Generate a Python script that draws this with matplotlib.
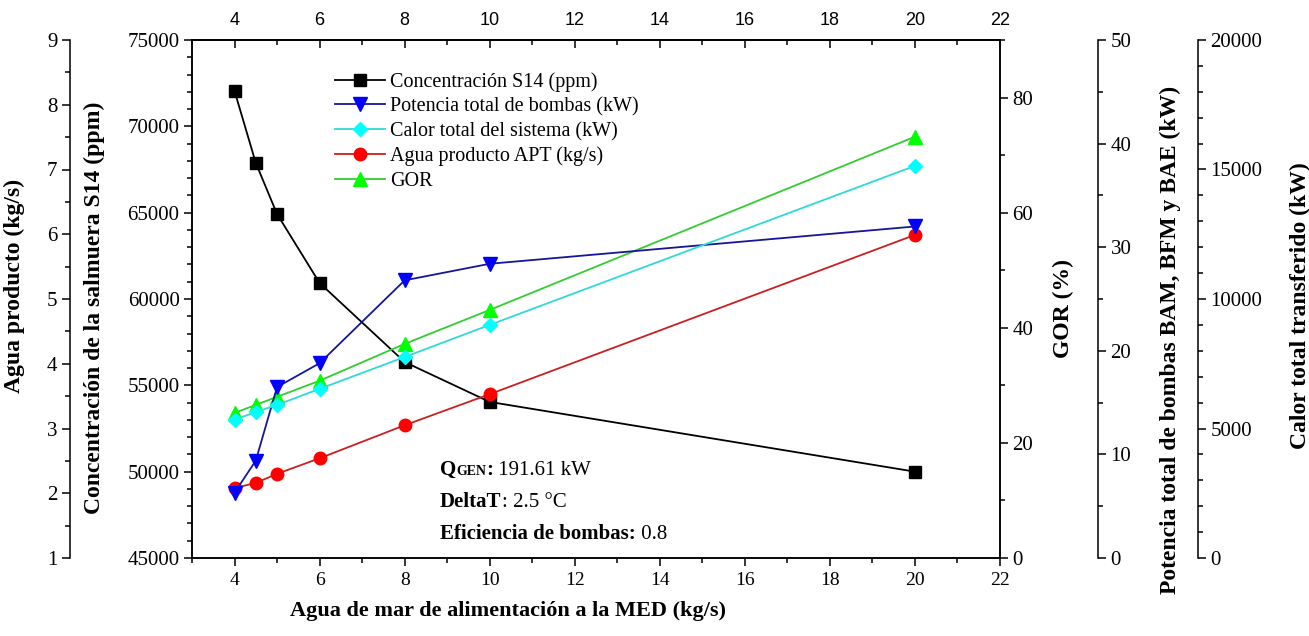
import matplotlib
matplotlib.use("Agg")
import matplotlib.pyplot as plt
from matplotlib.ticker import MultipleLocator
from matplotlib.offsetbox import TextArea, HPacker, VPacker, AnchoredOffsetbox

# Seawater feed to the MED unit (kg/s)
feed = [4, 4.5, 5, 6, 8, 10, 20]

# Series
conc_s14 = [72050, 67880, 64920, 60930, 56350, 54040, 50000]      # ppm
pump_power = [6.3, 9.4, 16.5, 18.8, 26.8, 28.4, 32.0]             # kW
heat_total = [5330, 5640, 5910, 6530, 7760, 9000, 15140]          # kW
product_water = [2.08, 2.16, 2.30, 2.54, 3.05, 3.53, 5.99]        # kg/s
gor = [25.2, 26.6, 28.0, 30.8, 37.2, 43.1, 73.2]                  # %

legend_labels = [
    "Concentración S14 (ppm)",
    "Potencia total de bombas (kW)",
    "Calor total del sistema (kW)",
    "Agua producto APT (kg/s)",
    "GOR",
]

plt.rcParams["font.family"] = ["Liberation Serif", "DejaVu Serif"]

W, H = 1309, 636
fig = plt.figure(figsize=(W / 100, H / 100), dpi=100)

L, R, T, B = 192, 1000, 40, 558
ax = fig.add_axes([L / W, 1 - B / H, (R - L) / W, (B - T) / H])
aw = (R - L)


def ax_off(px):
    return (px - L) / aw


def yfrac(py):
    return (B - py) / (B - T)


TICK_FS = 15
LABEL_FS = 17
LW = 1.1

# Twin axes, in drawing order
ax_g = ax.twinx()   # GOR
ax_w = ax.twinx()   # product water
ax_p = ax.twinx()   # pump power
ax_c = ax.twinx()   # heat

for a in (ax, ax_g, ax_w, ax_p, ax_c):
    for s in a.spines.values():
        s.set_linewidth(LW)

ax.set_xlim(3, 22)
ax.set_ylim(45000, 75000)
ax.ticklabel_format(axis="y", useOffset=False, style="plain")
ax.xaxis.set_major_locator(MultipleLocator(2))
ax.xaxis.set_minor_locator(MultipleLocator(1))
ax.yaxis.set_major_locator(MultipleLocator(5000))
ax.yaxis.set_minor_locator(MultipleLocator(1000))
ax.tick_params(axis="both", which="major", direction="out", length=6, width=LW,
               labelsize=TICK_FS, pad=3)
ax.tick_params(axis="both", which="minor", direction="out", length=3.5, width=LW)
ax.tick_params(axis="x", which="major", labelsize=14, pad=4)
ax.set_ylabel("Concentración de la salmuera S14 (ppm)", fontsize=LABEL_FS,
              fontweight="bold")
ax.yaxis.set_label_coords(ax_off(105), yfrac(308))
ax.set_xlabel("Agua de mar de alimentación a la MED (kg/s)", fontsize=16,
              fontweight="bold")
ax.xaxis.set_label_coords(ax_off(508), yfrac(601))

# Top axis
top = ax.secondary_xaxis("top")
top.xaxis.set_major_locator(MultipleLocator(2))
top.xaxis.set_minor_locator(MultipleLocator(1))
top.tick_params(which="major", direction="in", length=6, width=LW, pad=8)
top.tick_params(which="minor", direction="in", length=3.5, width=LW)
for lab in top.get_xticklabels():
    lab.set_fontfamily("Liberation Sans")
    lab.set_fontsize(13)
top.spines["top"].set_linewidth(LW)

# GOR on the main right spine
ax_g.set_ylim(0, 90)
ax_g.yaxis.set_major_locator(MultipleLocator(20))
ax_g.yaxis.set_minor_locator(MultipleLocator(10))
ax_g.tick_params(which="major", direction="out", length=6, width=LW,
                 labelsize=TICK_FS, pad=3)
ax_g.tick_params(which="minor", direction="out", length=3.5, width=LW)
ax_g.set_ylabel("GOR (%)", fontsize=LABEL_FS, fontweight="bold")
ax_g.yaxis.set_label_coords(ax_off(1053), yfrac(308))

# Product water on an outer left spine
ax_w.set_ylim(1, 9)
ax_w.yaxis.tick_left()
ax_w.yaxis.set_label_position("left")
for side in ("right", "top", "bottom"):
    ax_w.spines[side].set_visible(False)
ax_w.spines["left"].set_visible(True)
ax_w.spines["left"].set_position(("axes", ax_off(70)))
ax_w.yaxis.set_major_locator(MultipleLocator(1))
ax_w.yaxis.set_minor_locator(MultipleLocator(0.5))
ax_w.tick_params(which="major", direction="out", length=6, width=LW,
                 labelsize=TICK_FS, pad=3)
ax_w.tick_params(which="minor", direction="out", length=3.5, width=LW)
ax_w.set_ylabel("Agua producto (kg/s)", fontsize=LABEL_FS, fontweight="bold")
ax_w.yaxis.set_label_coords(ax_off(25), yfrac(286))

# Pump power on an outer right spine
ax_p.set_ylim(0, 50)
for side in ("left", "top", "bottom"):
    ax_p.spines[side].set_visible(False)
ax_p.spines["right"].set_position(("axes", ax_off(1098)))
ax_p.yaxis.set_major_locator(MultipleLocator(10))
ax_p.yaxis.set_minor_locator(MultipleLocator(5))
ax_p.tick_params(which="major", direction="out", length=6, width=LW,
                 labelsize=TICK_FS, pad=3)
ax_p.tick_params(which="minor", direction="out", length=3.5, width=LW)
ax_p.set_ylabel("Potencia total de bombas BAM, BFM y BAE (kW)",
                fontsize=LABEL_FS, fontweight="bold")
ax_p.yaxis.set_label_coords(ax_off(1160), yfrac(340))

# Heat transferred on the outermost right spine
ax_c.set_ylim(0, 20000)
for side in ("left", "top", "bottom"):
    ax_c.spines[side].set_visible(False)
ax_c.spines["right"].set_position(("axes", ax_off(1198)))
ax_c.yaxis.set_major_locator(MultipleLocator(5000))
ax_c.yaxis.set_minor_locator(MultipleLocator(1000))
ax_c.tick_params(which="major", direction="out", length=6, width=LW,
                 labelsize=TICK_FS, pad=3)
ax_c.tick_params(which="minor", direction="out", length=3.5, width=LW)
ax_c.set_ylabel("Calor total transferido (kW)", fontsize=LABEL_FS,
                fontweight="bold")
ax_c.yaxis.set_label_coords(ax_off(1290), yfrac(306))

for a in (ax_g, ax_p, ax_c):
    a.ticklabel_format(axis="y", useOffset=False, style="plain")

# Series
lw = 1.3
h_conc, = ax.plot(feed, conc_s14, color="black", lw=lw, marker="s", ms=8,
                  mfc="black", mec="black")
h_gor, = ax_g.plot(feed, gor, color="#33cc33", lw=lw, marker="^", ms=10,
                   mfc="#00ff00", mec="#00ff00")
h_water, = ax_w.plot(feed, product_water, color="#c82020", lw=lw, marker="o",
                     ms=9, mfc="#ff0000", mec="#ff0000")
h_pump, = ax_p.plot(feed, pump_power, color="#16169a", lw=lw, marker="v",
                    ms=10, mfc="#0000ff", mec="#0000ff")
h_heat, = ax_c.plot(feed, heat_total, color="#30d8d8", lw=lw, marker="D",
                    ms=7.5, mfc="#00ffff", mec="#00ffff")

ax_c.legend([h_conc, h_pump, h_heat, h_water, h_gor], legend_labels,
            loc="upper left", bbox_to_anchor=(335 / W, 1 - 72 / H),
            bbox_transform=fig.transFigure, frameon=False, fontsize=14.5,
            handlelength=2.5, handletextpad=0.25, labelspacing=0.27,
            borderpad=0, borderaxespad=0)

# Operating conditions
FS = 15
bold = dict(fontsize=FS, fontweight="bold", color="black")
norm = dict(fontsize=FS, color="black")
row1 = HPacker(children=[
    TextArea("Q", textprops=bold),
    TextArea("GEN", textprops=dict(fontsize=10, fontweight="bold", color="black")),
    TextArea(":", textprops=bold),
    TextArea(" 191.61 kW", textprops=norm),
], align="baseline", pad=0, sep=0)
row2 = HPacker(children=[
    TextArea("DeltaT", textprops=bold),
    TextArea(": 2.5 °C", textprops=norm),
], align="baseline", pad=0, sep=0)
row3 = HPacker(children=[
    TextArea("Eficiencia de bombas:", textprops=bold),
    TextArea(" 0.8", textprops=norm),
], align="baseline", pad=0, sep=0)
box = VPacker(children=[row1, row2, row3], align="left", pad=0, sep=8.5)
anch = AnchoredOffsetbox(loc="upper left", child=box, pad=0, borderpad=0,
                         frameon=False, bbox_to_anchor=(440 / W, 1 - 460 / H),
                         bbox_transform=fig.transFigure)
ax_c.add_artist(anch)

fig.savefig("out.png", dpi=100)
